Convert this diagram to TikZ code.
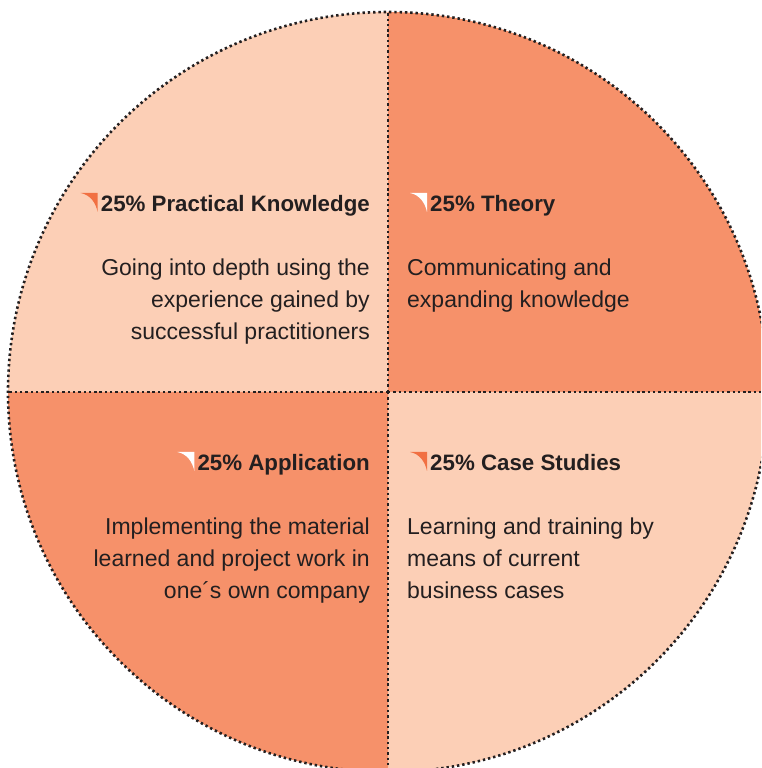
\documentclass[tikz,border=0pt]{standalone}
\usepackage{fontspec}
\setmainfont{Liberation Sans}
\usetikzlibrary{positioning}
\definecolor{peachlight}{RGB}{252,207,182}
\definecolor{peachdark}{RGB}{246,145,106}
\definecolor{markorange}{RGB}{241,112,66}
\definecolor{inkdark}{RGB}{35,31,32}

\tikzset{
  dotline/.style={line width=2.6pt, dash pattern=on 2.4pt off 2.9pt, inkdark},
  headtext/.style={inner sep=0pt, text=inkdark, font=\fontsize{22.3}{32}\selectfont\bfseries},
  bodytext/.style={inner sep=0pt, text=inkdark, font=\fontsize{23}{32}\selectfont},
  cornertab/.pic={\fill[#1] (-20,19) -- (-3,19) -- (-3,0) .. controls (-5,9) and (-10,17) .. (-20,19) -- cycle;}
}

\begin{document}
\begin{tikzpicture}[x=1pt,y=1pt]
\useasboundingbox (0,0) rectangle (761,768);
\clip (0,0) rectangle (761,768);

% four quarters of the disc
\coordinate (ctr) at (388,376);
\fill[peachlight] (ctr) -- ++(-380,0) arc (180:90:380) -- cycle;
\fill[peachdark] (ctr) -- ++(0,380) arc (90:0:380) -- cycle;
\fill[peachlight] (ctr) -- ++(380,0) arc (0:-90:380) -- cycle;
\fill[peachdark] (ctr) -- ++(0,-380) arc (270:180:380) -- cycle;

% dotted outline and cross
\draw[dotline] (ctr) circle (380);
\draw[dotline] (ctr) -- ++(0,380);
\draw[dotline] (ctr) -- ++(0,-380);
\draw[dotline] (ctr) -- ++(-380,0);
\draw[dotline] (ctr) -- ++(380,0);

% top left
\node[headtext, anchor=base east] (hPractical) at (370,556) {25\% Practical Knowledge};
\pic at (hPractical.base west) {cornertab=markorange};
\node[bodytext, anchor=base east, align=right] (bPractical) at (370,428)
  {Going into depth using the\\experience gained by\\successful practitioners};

% top right
\node[headtext, anchor=base west] (hTheory) at (430,556) {25\% Theory};
\pic at (hTheory.base west) {cornertab=white};
\node[bodytext, anchor=base west, align=left] (bTheory) at (407,460)
  {Communicating and\\expanding knowledge};

% bottom left
\node[headtext, anchor=base east] (hApplication) at (370,297) {25\% Application};
\pic at (hApplication.base west) {cornertab=white};
\node[bodytext, anchor=base east, align=right] (bApplication) at (370,169)
  {Implementing the material\\learned and project work in\\one´s own company};

% bottom right
\node[headtext, anchor=base west] (hCase) at (430,297) {25\% Case Studies};
\pic at (hCase.base west) {cornertab=markorange};
\node[bodytext, anchor=base west, align=left] (bCase) at (407,169)
  {Learning and training by\\means of current\\business cases};
\end{tikzpicture}
\end{document}
